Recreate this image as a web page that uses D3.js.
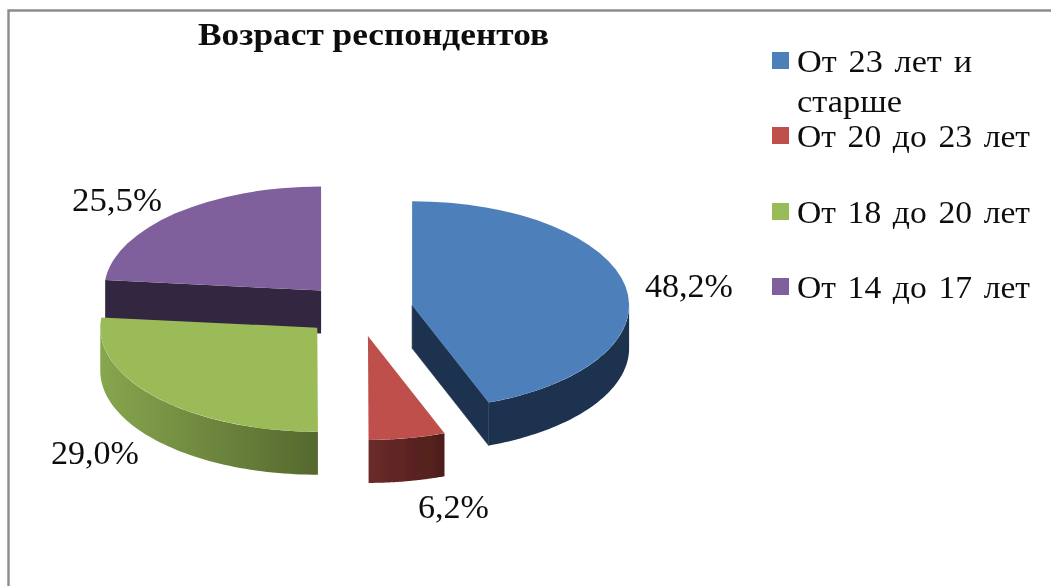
<!DOCTYPE html>
<html><head><meta charset="utf-8">
<script src="https://cdn.jsdelivr.net/npm/d3@7"></script>
<style>html,body{margin:0;padding:0;background:#fff}svg{display:block}text{font-family:"Liberation Serif",serif;fill:#111}</style>
</head><body><svg id="c" width="1051" height="586"></svg>
<script>
const titleText = "Возраст респондентов";
const categories = [["От 23 лет и","старше"],["От 20 до 23 лет"],["От 18 до 20 лет"],["От 14 до 17 лет"]];
const values = [48.2, 6.2, 29.0, 25.5];
const valueLabels = ["48,2%","6,2%","29,0%","25,5%"];
const topColors = ["#4d7fbb","#be504c","#9bbb59","#7f619d"];
const wallStops = [["#1f3350","#1f3350"],["#6b2b2a","#4e1e1b"],["#87a64e","#55682e"],["#33283f","#33283f"]];

const W=1051,H=586,cx=358,cy=310,rx=217,ry=104,depth=43,explode=55,k=ry/rx;
const svg=d3.select("#c");
const defs=svg.append("defs");
defs.append("filter").attr("id","soft").append("feGaussianBlur").attr("stdDeviation",0.45);
const root=svg.append("g").attr("filter","url(#soft)");
// frame
root.append("path").attr("d",`M8.5,${H}V10.5H${W}`).attr("fill","none").attr("stroke","#8c8c8c").attr("stroke-width",2.4);

const arcs=d3.pie().sort(null).value(d=>d)(values);
const px=(a,o)=>[o[0]+rx*Math.sin(a),o[1]-ry*Math.cos(a)];
const topArc=d3.arc().innerRadius(0).outerRadius(rx);
const line=d3.line();
const origin=d=>{const m=(d.startAngle+d.endAngle)/2;return [cx+explode*Math.sin(m),cy-explode*k*Math.cos(m)];};

arcs.forEach((d,i)=>{
  const g=defs.append("linearGradient").attr("id","w"+i);
  g.append("stop").attr("offset","0").attr("stop-color",wallStops[i][0]);
  g.append("stop").attr("offset","1").attr("stop-color",wallStops[i][1]);
});
// draw order: back slices first
[3,0,2,1].forEach(i=>{
  const d=arcs[i],o=origin(d),g=root.append("g");
  const a0=Math.max(d.startAngle,Math.PI/2),a1=Math.min(d.endAngle,Math.PI*1.5);
  const down=p=>[p[0],p[1]+depth];
  // radial cut face
  if(i===0){
    const e=px(d.endAngle,o);
    g.append("path").attr("d",line([o,e,down(e),down(o)])+"Z").attr("fill",wallStops[0][0]).attr("stroke",wallStops[0][0]).attr("stroke-width",0.6);
  }
  if(i===3){
    const s=px(d.startAngle,o);
    g.append("path").attr("d",line([s,o,down(o),down(s)])+"Z").attr("fill",wallStops[3][0]);
  }
  // outer wall
  if(a1>a0){
    const pts=d3.range(0,61).map(t=>px(a0+(a1-a0)*t/60,o));
    g.append("path").attr("d",line(pts.concat(pts.map(down).reverse()))+"Z").attr("fill",`url(#w${i})`);
  }
  g.append("path").attr("d",topArc(d))
   .attr("transform",`translate(${o[0]},${o[1]}) scale(1,${k})`).attr("fill",topColors[i]);
});

const stretched=(x,y,size,len,t)=>root.append("text").attr("x",x).attr("y",y).attr("font-size",size)
  .attr("textLength",len).attr("lengthAdjust","spacingAndGlyphs").text(t);

// title
stretched(198,45,31,351,titleText).attr("font-weight","bold");

// data labels
const labelPos=[[645,297],[418,518],[51,464],[72,211]];
const labelWidth=[88,71,88,90];
valueLabels.forEach((t,i)=>stretched(labelPos[i][0],labelPos[i][1],33,labelWidth[i],t));

// legend
const legendY=[52,127,203,278];
const legendWidth=[[175,105],[233],[233],[233]];
categories.forEach((lines,i)=>{
  root.append("rect").attr("x",772).attr("y",legendY[i]).attr("width",17).attr("height",17).attr("fill",topColors[i]);
  lines.forEach((t,j)=>stretched(797,legendY[i]+20+j*40,31,legendWidth[i][j],t).attr("word-spacing",3));
});
</script></body></html>
